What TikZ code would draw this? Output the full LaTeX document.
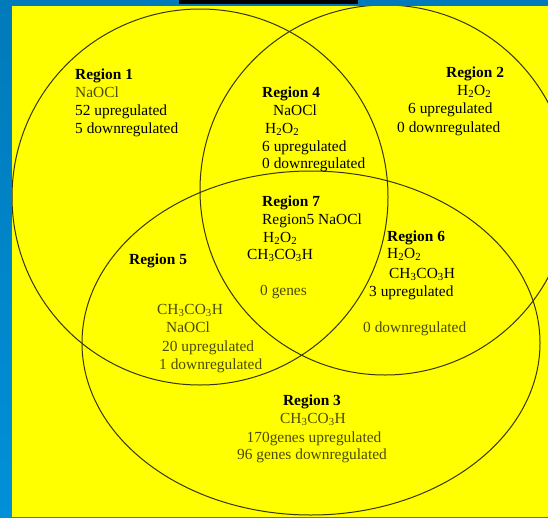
\documentclass[tikz,border=0pt]{standalone}
\usepackage{fontspec}
\setmainfont{Liberation Serif}
\usepackage{tikz}

\definecolor{slideblue}{RGB}{0,122,186}
\definecolor{slideblue2}{RGB}{0,144,216}
\definecolor{vennyellow}{RGB}{255,255,0}
\definecolor{vennline}{RGB}{55,55,5}
\definecolor{faint}{RGB}{75,75,10}

\begin{document}
\begin{tikzpicture}[x=1pt, y=-1pt,
  venn/.style={draw=vennline, line width=1pt},
  txt/.style={anchor=base west, inner sep=0pt, font=\fontsize{15.4}{18}\selectfont},
  txtc/.style={txt, anchor=base},
  head/.style={txt, font=\fontsize{15.4}{18}\selectfont\bfseries},
  headc/.style={head, anchor=base},
  dim/.style={text=faint}]
  \useasboundingbox (0,0) rectangle (548,517);

  % slide background
  \shade[top color=slideblue, bottom color=slideblue2] (0,0) rectangle (548,517);
  \fill[vennyellow] (12,6) rectangle (548,517);
  \fill[black] (179,0) rectangle (358,4);

  % the three sets
  \begin{scope}
    \clip (12,6) rectangle (548,517);
    \draw[venn] (200,197) circle [radius=188];
    \draw[venn] (385,190) circle [radius=185];
    \draw[venn] (311,343) ellipse [x radius=229, y radius=172];
  \end{scope}

  % Region 1
  \node[head] (r1) at (75,79) {Region 1};
  \node[txt, dim] (r1a) at (75,97) {NaOCl};
  \node[txt] (r1b) at (75,115) {52 upregulated};
  \node[txt] (r1c) at (75,133) {5 downregulated};

  % Region 2
  \node[head] (r2) at (446,77) {Region 2};
  \node[txt] (r2a) at (457,95) {H\textsubscript{2}O\textsubscript{2}};
  \node[txt] (r2b) at (408,113) {6 upregulated};
  \node[txt] (r2c) at (397,132) {0 downregulated};

  % Region 3
  \node[headc] (r3) at (312,405) {Region 3};
  \node[txtc, dim] (r3a) at (313,423) {CH\textsubscript{3}CO\textsubscript{3}H};
  \node[txtc, dim] (r3b) at (314,442) {170genes upregulated};
  \node[txtc, dim] (r3c) at (312,459) {96 genes downregulated};

  % Region 4
  \node[head] (r4) at (262,97) {Region 4};
  \node[txt] (r4a) at (273,115) {NaOCl};
  \node[txt] (r4b) at (265,133) {H\textsubscript{2}O\textsubscript{2}};
  \node[txt] (r4c) at (262,151) {6 upregulated};
  \node[txt] (r4d) at (262,168) {0 downregulated};

  % Region 5
  \node[head] (r5) at (129,264) {Region 5};
  \node[txt, dim] (r5a) at (157,314) {CH\textsubscript{3}CO\textsubscript{3}H};
  \node[txt, dim] (r5b) at (166,332) {NaOCl};
  \node[txt, dim] (r5c) at (162,351) {20 upregulated};
  \node[txt, dim] (r5d) at (159,369) {1 downregulated};

  % Region 6
  \node[head] (r6) at (387,241) {Region 6};
  \node[txt] (r6a) at (387,258) {H\textsubscript{2}O\textsubscript{2}};
  \node[txt] (r6b) at (389,278) {CH\textsubscript{3}CO\textsubscript{3}H};
  \node[txt] (r6c) at (369,296) {3 upregulated};
  \node[txt, dim] (r6d) at (363,332) {0 downregulated};

  % Region 7
  \node[head] (r7) at (262,206) {Region 7};
  \node[txt] (r7a) at (262,224) {Region5 NaOCl};
  \node[txt] (r7b) at (263,242) {H\textsubscript{2}O\textsubscript{2}};
  \node[txt] (r7c) at (247,259) {CH\textsubscript{3}CO\textsubscript{3}H};
  \node[txt, dim] (r7d) at (260,295) {0 genes};
\end{tikzpicture}
\end{document}
